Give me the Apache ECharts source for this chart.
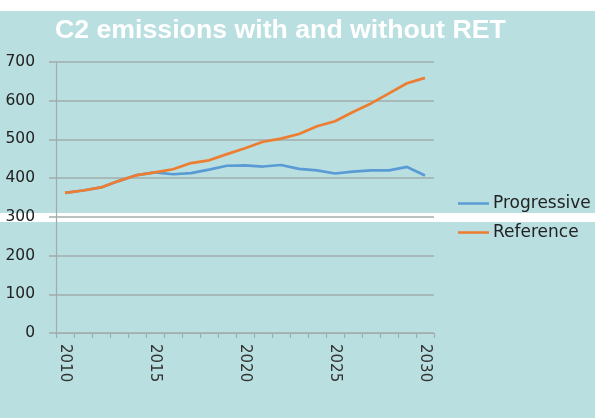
<!DOCTYPE html>
<html>
<head>
<meta charset="utf-8">
<script src="https://cdn.jsdelivr.net/npm/echarts@6/dist/echarts.min.js"></script>
<style>
html,body{margin:0;padding:0;background:#ffffff;}
#chart{width:595px;height:418px;}
</style>
</head>
<body>
<div id="chart"></div>
<script>
const years = ['2010','2011','2012','2013','2014','2015','2016','2017','2018','2019','2020','2021','2022','2023','2024','2025','2026','2027','2028','2029','2030'];
const progressive = [362,368,376,393,408,415,410,413,422,432,433,430,434,424,420,412,417,420,420,429,407];
const reference = [362,368,376,393,408,415,423,439,446,462,477,494,502,514,534,547,571,593,619,645,659];
const yTicks = [0,100,200,300,400,500,600,700];
const titleText = 'C2 emissions with and without RET';

const chart = echarts.init(document.getElementById('chart'), null, {renderer:'canvas'});
const gridColor = '#a3acad';
chart.setOption({
  backgroundColor: '#b9dfe1',
  animation: false,
  graphic: [
    {type:'rect', z:-10, shape:{x:0,y:0,width:595,height:11}, style:{fill:'#ffffff'}},
    {type:'rect', z:-10, shape:{x:0,y:213,width:595,height:9}, style:{fill:'#ffffff'}}
  ],
  title: {
    text: titleText,
    left: 55, top: 17, padding: 0,
    textStyle: {color:'#ffffff', fontFamily:'Liberation Sans', fontWeight:'bold', fontSize:26.7}
  },
  legend: {
    orient: 'vertical',
    left: 458, top: 195, padding: 0,
    icon: 'path://M0,0 L31,0 L31,2.5 L0,2.5 Z',
    itemWidth: 31, itemHeight: 2.5, itemGap: 12,
    textStyle: {color:'#222222', fontFamily:'DejaVu Sans', fontSize:17, padding:[0,0,0,-1]},
    data: ['Progressive','Reference']
  },
  grid: {left:56, right:161, top:62, bottom:85, containLabel:false},
  xAxis: {
    type: 'category',
    data: years,
    boundaryGap: true,
    axisLine: {lineStyle:{color:gridColor, width:1.2}},
    axisTick: {show:true, interval:0, length:5, lineStyle:{color:gridColor, width:1.2}},
    axisLabel: {interval:4, rotate:-90, margin:11, color:'#333333', fontFamily:'DejaVu Sans', fontSize:15}
  },
  yAxis: {
    type: 'value',
    min: yTicks[0], max: yTicks[yTicks.length-1], interval: 100,
    axisLine: {show:true, lineStyle:{color:gridColor, width:1.2}},
    axisTick: {show:true, length:7, lineStyle:{color:gridColor, width:1.5}},
    splitLine: {show:true, lineStyle:{color:gridColor, width:1.5}},
    axisLabel: {margin:21, color:'#222222', fontFamily:'DejaVu Sans', fontSize:15.5}
  },
  series: [
    {name:'Progressive', type:'line', data:progressive, symbol:'none', z:3,
     lineStyle:{color:'#5b9bd5', width:2.7}, itemStyle:{color:'#5b9bd5'}},
    {name:'Reference', type:'line', data:reference, symbol:'none', z:4,
     lineStyle:{color:'#ed7d31', width:2.7}, itemStyle:{color:'#ed7d31'}}
  ]
});
</script>
</body>
</html>
